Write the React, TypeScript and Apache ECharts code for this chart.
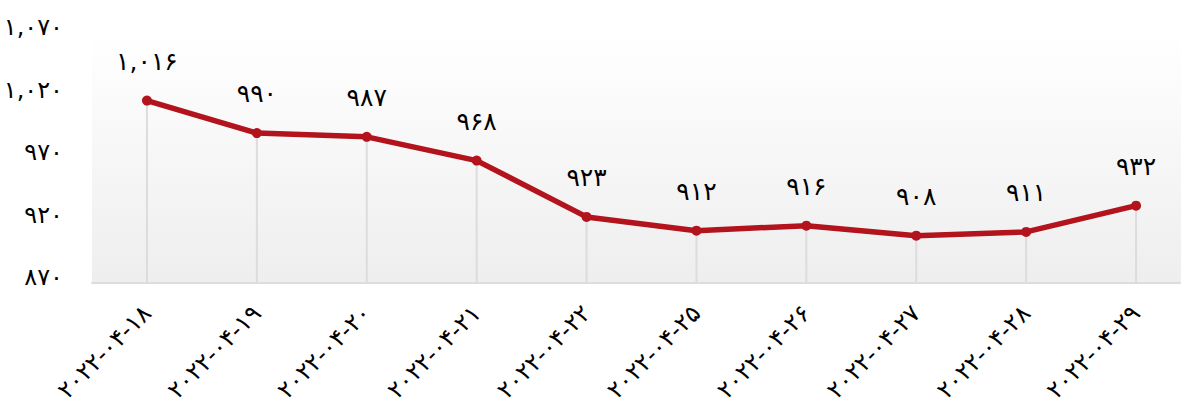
import React, { useEffect, useRef } from "react";
import * as echarts from "echarts";

const categories = [
  "2022-04-18", "2022-04-19", "2022-04-20", "2022-04-21", "2022-04-22",
  "2022-04-25", "2022-04-26", "2022-04-27", "2022-04-28", "2022-04-29",
];
const values = [1016, 990, 987, 968, 923, 912, 916, 908, 911, 932];
const yMin = 870;
const yMax = 1070;
const yInterval = 50;

const fa = (s: string) => s.replace(/[0-9]/g, (d) => "۰۱۲۳۴۵۶۷۸۹"[+d]);
const fmtNum = (v: number) => fa(v.toLocaleString("en-US"));

export default function App() {
  const ref = useRef<HTMLDivElement>(null);
  useEffect(() => {
    if (!ref.current) return;
    const chart = echarts.init(ref.current, undefined, { renderer: "svg" });
    const font = "'DejaVu Sans'";
    chart.setOption({
      animation: false,
      grid: {
        left: 92,
        right: 0,
        top: 33,
        bottom: 121,
        show: true,
        borderWidth: 0,
        backgroundColor: new echarts.graphic.LinearGradient(0, 0, 0, 1, [
          { offset: 0, color: "#ffffff" },
          { offset: 1, color: "#eeeeee" },
        ]),
      },
      xAxis: {
        type: "category",
        data: categories,
        boundaryGap: true,
        axisLine: { show: true, lineStyle: { color: "#dddddd", width: 2 } },
        axisTick: { show: false },
        splitLine: { show: false },
        axisLabel: {
          rotate: 45,
          margin: 26,
          fontSize: 24,
          color: "#000",
          fontFamily: font,
          interval: 0,
          formatter: (v: string) => fa(v),
        },
      },
      yAxis: {
        type: "value",
        min: yMin,
        max: yMax,
        interval: yInterval,
        axisLine: { show: false },
        axisTick: { show: false },
        splitLine: { show: false },
        axisLabel: {
          fontSize: 24,
          color: "#000",
          fontFamily: font,
          margin: 29,
          verticalAlign: "bottom",
          lineHeight: 12,
          formatter: (v: number) => fmtNum(v),
        },
      },
      series: [
        {
          type: "bar",
          data: values,
          barWidth: 2,
          itemStyle: { color: "#dcdcdc" },
          silent: true,
          z: 1,
          clip: true,
        },
        {
          type: "line",
          data: values,
          z: 3,
          symbol: "circle",
          symbolSize: 10,
          lineStyle: { color: "#b3131c", width: 5.5 },
          itemStyle: { color: "#b3131c" },
          label: {
            show: true,
            position: "top",
            distance: 22,
            fontSize: 25,
            color: "#000",
            fontFamily: font,
            formatter: (p: any) => fmtNum(p.value),
          },
        },
      ],
    });
    return () => chart.dispose();
  }, []);
  return (
    <div style={{ position: "absolute", left: 0, top: 0, width: 1181, height: 405, overflow: "hidden" }}>
      <div ref={ref} style={{ width: 1191, height: 405 }} />
    </div>
  );
}
